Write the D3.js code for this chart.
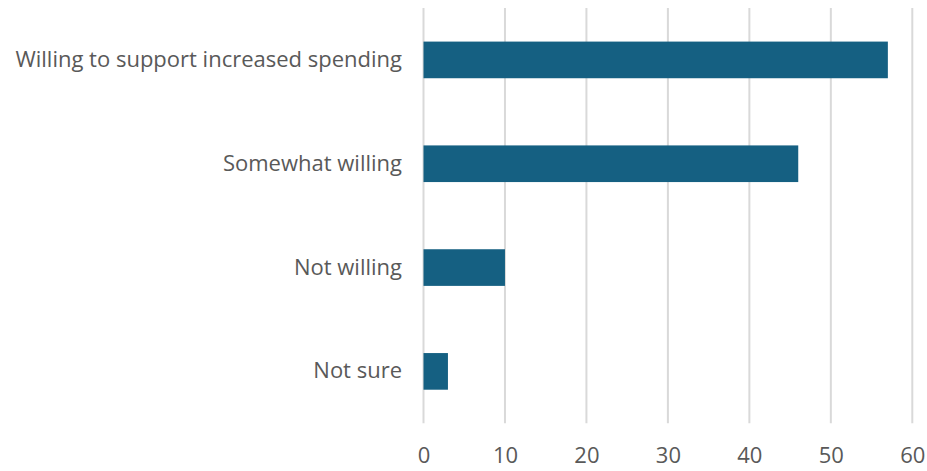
<!DOCTYPE html>
<html><head><meta charset="utf-8">
<script src="https://cdn.jsdelivr.net/npm/d3@7"></script>
<style>body{margin:0;background:#fff;} svg{display:block;}</style>
</head><body>
<svg id="chart" width="927" height="471"></svg>
<script>
const categories = ["Willing to support increased spending", "Somewhat willing", "Not willing", "Not sure"];
const values = [57, 46, 10, 3];
const tickValues = [0, 10, 20, 30, 40, 50, 60];

const svg = d3.select("#chart");
const font = "'Open Sans', 'Noto Sans', sans-serif";
const x = d3.scaleLinear().domain([0, 60]).range([423.5, 912.3]);
const y = d3.scaleBand().domain(categories).range([8, 423.3]).paddingInner(0.647).paddingOuter(0.3235);

// gridlines
svg.append("g").selectAll("line").data(tickValues).join("line")
  .attr("x1", d => x(d)).attr("x2", d => x(d))
  .attr("y1", 8).attr("y2", 423.3)
  .attr("stroke", "#d9d9d9").attr("stroke-width", 2);

// bars
svg.append("g").selectAll("rect").data(values).join("rect")
  .attr("x", x(0)).attr("y", (d, i) => y(categories[i]))
  .attr("width", d => x(d) - x(0)).attr("height", y.bandwidth())
  .attr("fill", "#156082");

// x axis
const xAxis = d3.axisBottom(x).tickValues(tickValues).tickSize(0).tickPadding(0);
const gx = svg.append("g").attr("transform", "translate(0,463)").call(xAxis);
gx.select(".domain").remove();
gx.selectAll("text").attr("font-family", font).attr("font-size", 22).attr("fill", "#595959").attr("dy", "0").attr("y", 0);

// y axis
const yAxis = d3.axisLeft(y).tickSize(0).tickPadding(0);
const gy = svg.append("g").attr("transform", "translate(402,0)").call(yAxis);
gy.select(".domain").remove();
gy.selectAll("text").attr("font-family", font).attr("font-size", 22).attr("fill", "#595959");
</script>
</body></html>
